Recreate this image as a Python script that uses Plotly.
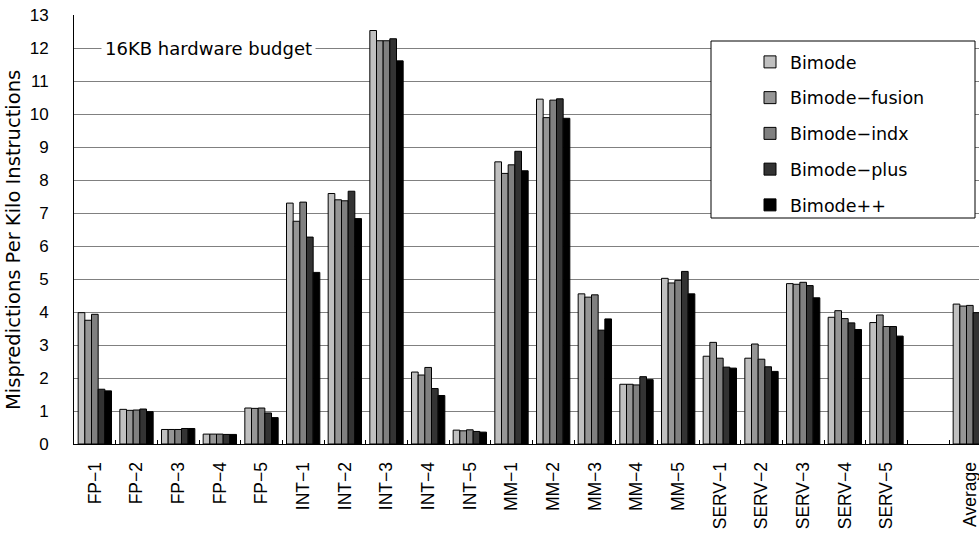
import plotly.graph_objects as go

categories = ["FP−1", "FP−2", "FP−3", "FP−4", "FP−5",
              "INT−1", "INT−2", "INT−3", "INT−4", "INT−5",
              "MM−1", "MM−2", "MM−3", "MM−4", "MM−5",
              "SERV−1", "SERV−2", "SERV−3", "SERV−4", "SERV−5",
              " ", "Average"]

series_names = ["Bimode", "Bimode−fusion", "Bimode−indx", "Bimode−plus", "Bimode++"]

bimode        = [3.98, 1.05, 0.44, 0.30, 1.09, 7.30, 7.59, 12.53, 2.18, 0.42, 8.55, 10.45, 4.55, 1.81, 5.02, 2.66, 2.60, 4.86, 3.84, 3.68, None, 4.24]
bimode_fusion = [3.75, 1.02, 0.44, 0.30, 1.08, 6.75, 7.40, 12.22, 2.09, 0.40, 8.20, 9.89, 4.45, 1.81, 4.88, 3.08, 3.03, 4.84, 4.04, 3.91, None, 4.18]
bimode_indx   = [3.93, 1.03, 0.44, 0.30, 1.09, 7.33, 7.37, 12.22, 2.32, 0.43, 8.46, 10.42, 4.52, 1.79, 4.96, 2.60, 2.57, 4.90, 3.80, 3.56, None, 4.20]
bimode_plus   = [1.66, 1.06, 0.47, 0.29, 0.94, 6.27, 7.66, 12.28, 1.68, 0.38, 8.87, 10.46, 3.45, 2.04, 5.23, 2.33, 2.34, 4.80, 3.67, 3.56, None, 3.98]
bimode_pp     = [1.61, 0.98, 0.47, 0.29, 0.80, 5.20, 6.83, 11.61, 1.47, 0.36, 8.28, 9.87, 3.79, 1.95, 4.55, 2.30, 2.20, 4.43, 3.47, 3.27, None, 3.72]

colors = ["#c0c0c0", "#969696", "#808080", "#333333", "#000000"]
all_series = [bimode, bimode_fusion, bimode_indx, bimode_plus, bimode_pp]

W, H = 979, 535
L, R, T, B = 74, 0, 15, 91
FONT = "Liberation Sans, Arial, sans-serif"
TFONT = "DejaVu Sans, sans-serif"

fig = go.Figure()
for i, (name, vals, c) in enumerate(zip(series_names, all_series, colors)):
    fig.add_trace(go.Bar(
        x=categories, y=vals, name=name,
        marker=dict(color=c, line=dict(color="#000000", width=1)),
        legendgroup=f"g{i}",
    ))

pw = W - L - R
ph = H - T - B

def px_x(p):
    return (p - L) / pw

def px_y(p):
    return (H - B - p) / ph

fig.update_layout(
    width=W, height=H,
    margin=dict(l=L, r=R, t=T, b=B, pad=0),
    paper_bgcolor="white", plot_bgcolor="white",
    barmode="group", bargap=0.2, bargroupgap=0,
    font=dict(family=FONT, size=16, color="#000000"),
    showlegend=True,
    legend=dict(
        x=px_x(750), y=px_y(44), xanchor="left", yanchor="top",
        bgcolor="rgba(0,0,0,0)", borderwidth=0,
        font=dict(family=TFONT, size=17.5, color="#000000"),
        traceorder="grouped", tracegroupgap=10,
    ),
    xaxis=dict(
        type="category", range=[-0.5, 21.22],
        showline=True, linecolor="#000000", linewidth=1,
        ticks="inside", tickson="boundaries", ticklen=4, tickcolor="#000000",
        tickangle=-90, tickfont=dict(family=FONT, size=17.5, color="#000000"),
        ticklabelstandoff=10,
        showgrid=False,
    ),
    yaxis=dict(
        range=[0, 13], dtick=1, tick0=0,
        showline=True, linecolor="#000000", linewidth=1,
        showgrid=True, gridcolor="#808080", gridwidth=1,
        ticks="outside", ticklen=21, tickcolor="rgba(0,0,0,0)",
        tickfont=dict(family=FONT, size=17, color="#000000"),
        zeroline=False,
    ),
    shapes=[
        dict(type="rect", xref="paper", yref="paper",
             x0=px_x(711), x1=px_x(975), y0=px_y(218), y1=px_y(41),
             fillcolor="white", line=dict(color="#000000", width=1), layer="above"),
    ],
    annotations=[
        dict(text="16KB hardware budget", xref="paper", yref="y",
             x=px_x(208), y=12, xanchor="center", yanchor="middle",
             showarrow=False, bgcolor="white",
             font=dict(family=TFONT, size=18, color="#000000"), borderpad=3),
        dict(text="Mispredictions Per Kilo Instructions", xref="paper", yref="paper",
             x=px_x(13), y=px_y(240), xanchor="center", yanchor="middle",
             textangle=-90, showarrow=False,
             font=dict(family=TFONT, size=19.5, color="#000000")),
    ],
)

fig.write_html("out.html")
